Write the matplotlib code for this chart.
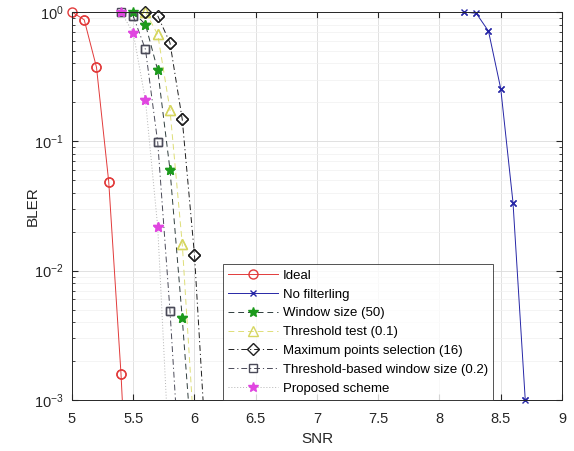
import numpy as np
import matplotlib
matplotlib.use("Agg")
import matplotlib.pyplot as plt
from matplotlib.ticker import LogLocator, NullFormatter

plt.rcParams['font.family'] = ['Liberation Sans', 'DejaVu Sans']

# BLER curves (SNR in dB)
snr_ideal = [5.0, 5.1, 5.2, 5.3, 5.4, 5.5]
bler_ideal = [1.0, 0.87, 0.374, 0.0486, 0.0016, 2e-5]

snr_nofilt = [8.2, 8.3, 8.4, 8.5, 8.6, 8.7]
bler_nofilt = [1.0, 0.977, 0.711, 0.255, 0.0336, 0.001]

snr_window = [5.5, 5.6, 5.7, 5.8, 5.9, 6.0]
bler_window = [1.0, 0.80, 0.354, 0.0604, 0.0043, 2.3e-4]

snr_thresh = [5.6, 5.7, 5.8, 5.9, 6.0]
bler_thresh = [1.0, 0.67, 0.175, 0.0162, 5e-4]

snr_maxpts = [5.6, 5.7, 5.8, 5.9, 6.0, 6.1]
bler_maxpts = [1.0, 0.935, 0.577, 0.148, 0.0132, 3.3e-4]

snr_tbwin = [5.4, 5.5, 5.6, 5.7, 5.8, 5.9]
bler_tbwin = [1.0, 0.93, 0.513, 0.098, 0.0049, 1.4e-4]

snr_prop = [5.4, 5.5, 5.6, 5.7, 5.8]
bler_prop = [1.0, 0.69, 0.207, 0.0217, 2.7e-4]

labels = ["Ideal", "No filterling", "Window size (50)", "Threshold test (0.1)",
          "Maximum points selection (16)", "Threshold-based window size (0.2)",
          "Proposed scheme"]

YMIN, YMAX = 1e-3, 1.0

series = [
    (snr_ideal, bler_ideal, dict(color='#e23b3b', ls='-', marker='o', ms=6.5, mfc='none', mec='#e23b3b')),
    (snr_nofilt, bler_nofilt, dict(color='#2626a6', ls='-', marker='x', ms=5, mec='#2626a6')),
    (snr_window, bler_window, dict(color='#2f3d3d', ls=(0, (6, 4)), marker='*', ms=7, mec='#1c9a1c', mfc='#1c9a1c')),
    (snr_thresh, bler_thresh, dict(color='#dede78', ls=(0, (6, 4)), marker='^', ms=7, mfc='none', mec='#d6d660')),
    (snr_maxpts, bler_maxpts, dict(color='#1e1e1e', ls=(0, (6, 3, 1.2, 3)), marker='D', ms=6, mfc='none', mec='#1e1e1e')),
    (snr_tbwin, bler_tbwin, dict(color='#4a4a58', ls=(0, (6, 3, 1.2, 3)), marker='s', ms=5.5, mfc='none', mec='#4a4a58')),
    (snr_prop, bler_prop, dict(color='#b4b4b4', ls=(0, (1, 2)), marker='*', ms=7, mfc='#e046e0', mec='#e046e0')),
]

fig = plt.figure(figsize=(5.74, 4.51), dpi=100)
ax = fig.add_axes([0.1254, 0.1131, 0.8537, 0.8603])

for (x, y, st), lab in zip(series, labels):
    ax.plot(x, y, lw=0.7, label=lab, **st)
    # markers inside the limits are drawn unclipped
    x = np.asarray(x)
    y = np.asarray(y)
    keep = (y >= YMIN) & (y <= YMAX)
    mk = {k: v for k, v in st.items() if k not in ('ls', 'color')}
    ax.plot(x[keep], y[keep], ls='none', clip_on=False, label='_nolegend_', **mk)

ax.set_yscale('log')
ax.set_xlim(5, 9)
ax.set_ylim(YMIN, YMAX)
ax.set_xticks(np.arange(5, 9.01, 0.5))
ax.set_xticklabels(['5', '5.5', '6', '6.5', '7', '7.5', '8', '8.5', '9'])
ax.yaxis.set_major_locator(LogLocator(base=10, numticks=10))
ax.yaxis.set_minor_locator(LogLocator(base=10, subs=np.arange(2, 10), numticks=10))
ax.yaxis.set_minor_formatter(NullFormatter())

ax.grid(True, which='major', color='#dcdcdc', lw=0.6)
ax.grid(True, which='minor', axis='y', color='#f0f0f0', lw=0.5)
ax.set_axisbelow(True)

ax.tick_params(which='both', direction='in', top=True, right=True,
               colors='#262626', labelsize=10.5)
ax.tick_params(axis='x', pad=9)
ax.tick_params(axis='y', pad=6)
ax.tick_params(which='major', length=4)
ax.tick_params(which='minor', length=2)
for s in ax.spines.values():
    s.set_color('#262626')
    s.set_linewidth(0.7)

ax.set_xlabel('SNR', fontsize=11, color='#262626', labelpad=4)
ax.set_ylabel('BLER', fontsize=11, color='#262626', labelpad=-4)

leg = ax.legend(loc='lower left', bbox_to_anchor=(0.308, 0.0), borderaxespad=0,
                fontsize=9.5, frameon=True, fancybox=False, handlelength=3.8,
                handletextpad=0.35, labelspacing=0.5, borderpad=0.4)
leg.get_frame().set_edgecolor('#262626')
leg.get_frame().set_linewidth(0.7)

fig.savefig('out.png', dpi=100)
